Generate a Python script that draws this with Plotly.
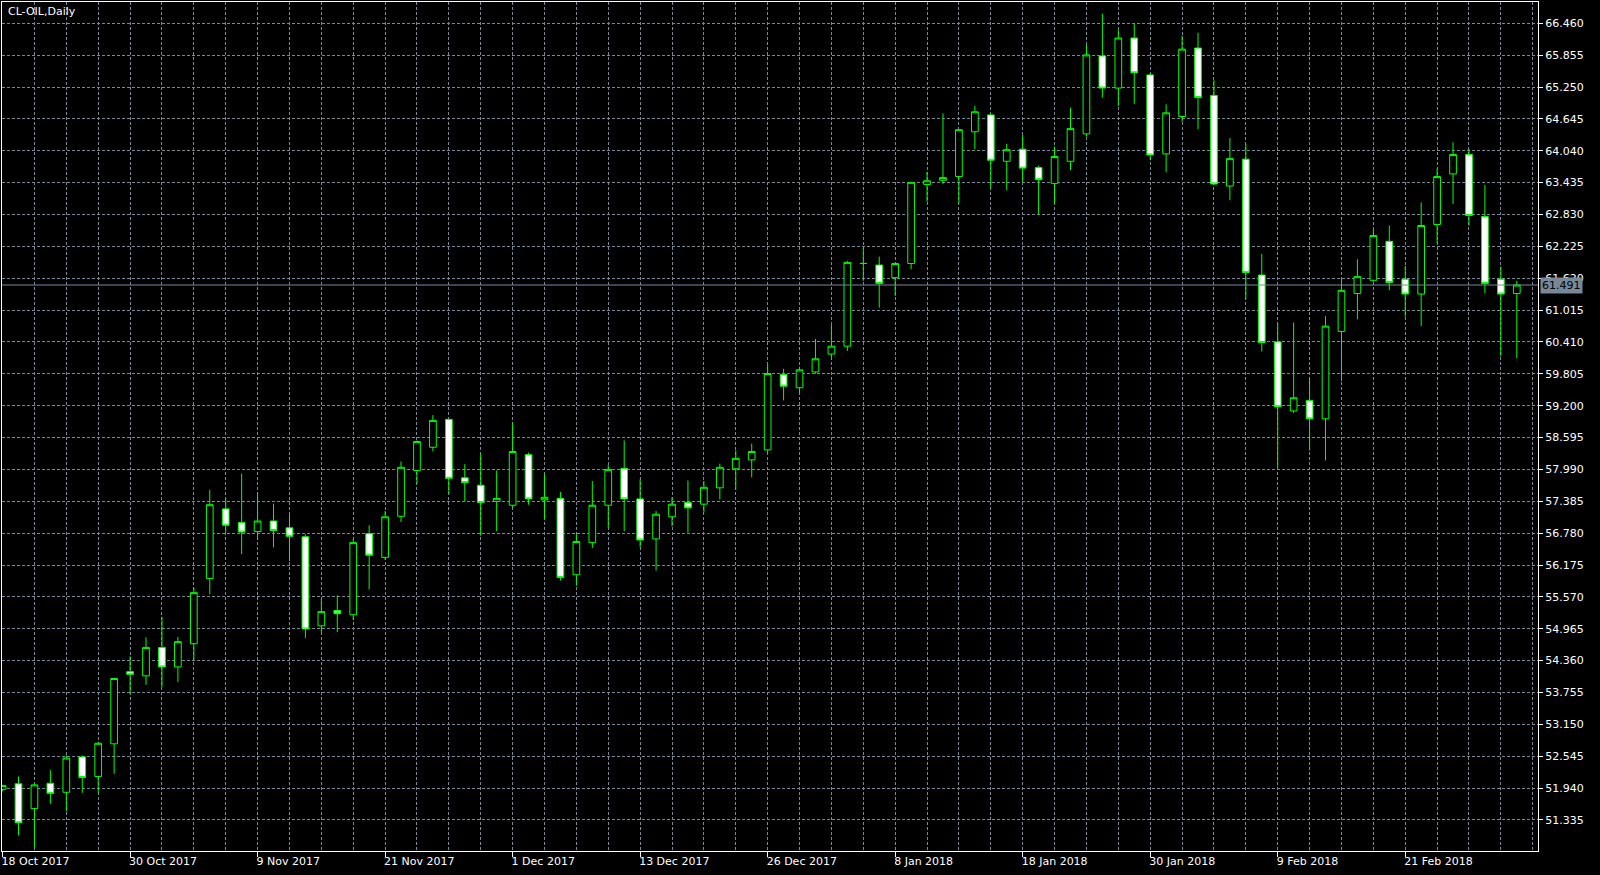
import plotly.graph_objects as go

# CL-OIL daily candles, 18 Oct 2017 - 2 Mar 2018
open_ = [51.915, 52.02, 51.55, 52.03, 51.86, 52.53, 52.16, 52.78, 54.15, 54.07,
         54.61, 54.24, 54.68, 55.92, 57.24, 56.98, 56.81, 57.01, 56.88, 56.71,
         55.02, 55.31, 55.23, 56.77, 56.32, 57.10, 57.97, 58.41, 58.94, 57.83,
         57.69, 57.38, 57.31, 58.27, 57.41, 57.44, 55.99, 56.60, 57.31, 58.01,
         57.43, 56.67, 57.09, 57.36, 57.33, 57.64, 58.00, 58.17, 58.36, 59.79,
         59.54, 59.84, 60.18, 60.33, 61.90, 61.87, 61.63, 61.90, 63.40, 63.48,
         63.55, 64.40, 64.72, 63.84, 64.07, 63.72, 63.42, 63.84, 64.36, 65.84,
         65.23, 66.18, 65.48, 63.98, 64.69, 65.99, 65.09, 63.37, 63.88, 61.68,
         60.41, 59.10, 59.30, 58.95, 60.61, 61.33, 61.58, 62.32, 61.60, 61.32,
         62.64, 63.60, 63.97, 62.79, 61.60, 61.33]
high = [52.00, 52.16, 52.02, 52.28, 52.56, 52.56, 52.81, 54.03, 54.44, 54.80,
        55.19, 54.81, 55.74, 57.60, 57.45, 57.91, 57.55, 57.34, 57.14, 56.76,
        55.54, 55.60, 56.66, 56.93, 57.20, 58.14, 58.54, 59.02, 58.95, 58.09,
        58.28, 57.97, 58.88, 58.31, 57.90, 57.56, 56.76, 57.77, 58.07, 58.54,
        57.80, 57.20, 57.46, 57.78, 57.77, 58.10, 58.35, 58.48, 59.99, 59.90,
        59.94, 60.47, 60.73, 61.95, 62.20, 62.03, 61.92, 63.45, 63.64, 64.75,
        64.45, 64.89, 64.74, 64.17, 64.34, 63.76, 64.12, 64.86, 66.05, 66.64,
        66.33, 66.45, 65.52, 64.92, 66.22, 66.28, 65.38, 64.28, 64.17, 62.08,
        60.76, 60.78, 59.73, 60.90, 61.61, 61.98, 62.55, 62.62, 61.85, 63.06,
        63.70, 64.20, 64.07, 63.39, 61.84, 61.57]
low = [51.88, 51.04, 50.82, 51.64, 51.50, 51.85, 51.85, 52.21, 53.73, 53.90,
       53.86, 53.95, 54.37, 55.62, 56.80, 56.38, 56.65, 56.51, 56.25, 54.79,
       54.89, 54.90, 55.13, 55.71, 56.27, 56.99, 57.72, 58.33, 57.52, 57.39,
       56.73, 56.82, 57.27, 57.32, 57.05, 55.88, 55.78, 56.50, 56.88, 56.82,
       56.51, 56.07, 56.91, 56.79, 57.17, 57.42, 57.60, 57.84, 58.31, 59.30,
       59.43, 59.81, 60.07, 60.24, 61.57, 61.06, 61.28, 61.79, 63.07, 63.41,
       63.04, 64.07, 63.32, 63.29, 63.44, 62.83, 63.04, 63.67, 64.31, 65.05,
       64.89, 64.93, 63.86, 63.63, 64.59, 64.45, 63.39, 63.10, 61.22, 60.23,
       58.03, 59.06, 58.35, 58.16, 59.67, 60.84, 61.55, 61.39, 60.89, 60.71,
       62.28, 63.03, 62.62, 61.33, 60.14, 60.10]
close = [51.99, 51.28, 52.00, 51.84, 52.51, 52.14, 52.79, 54.02, 54.10, 54.61,
         54.24, 54.72, 55.65, 57.32, 56.93, 56.80, 57.01, 56.83, 56.72, 54.96,
         55.29, 55.25, 56.60, 56.36, 57.09, 58.03, 58.52, 58.92, 57.82, 57.74,
         57.36, 57.44, 58.33, 57.43, 57.46, 55.94, 56.62, 57.31, 57.99, 57.43,
         56.65, 57.14, 57.33, 57.26, 57.65, 58.03, 58.20, 58.33, 59.81, 59.57,
         59.88, 60.09, 60.33, 61.92, 61.90, 61.52, 61.90, 63.44, 63.47, 63.53,
         64.44, 64.78, 63.86, 64.06, 63.71, 63.49, 63.93, 64.46, 65.86, 65.23,
         66.18, 65.52, 63.96, 64.76, 65.97, 65.05, 63.41, 63.89, 61.73, 60.40,
         59.18, 59.35, 58.95, 60.71, 61.39, 61.65, 62.43, 61.54, 61.32, 62.62,
         63.55, 63.97, 62.81, 61.52, 61.32, 61.491]

date_labels = ["18 Oct 2017", "30 Oct 2017", "9 Nov 2017", "21 Nov 2017",
               "1 Dec 2017", "13 Dec 2017", "26 Dec 2017", "8 Jan 2018",
               "18 Jan 2018", "30 Jan 2018", "9 Feb 2018", "21 Feb 2018"]
price_ticks = [66.460, 65.855, 65.250, 64.645, 64.040, 63.435, 62.830, 62.225,
               61.620, 61.015, 60.410, 59.805, 59.200, 58.595, 57.990, 57.385,
               56.780, 56.175, 55.570, 54.965, 54.360, 53.755, 53.150, 52.545,
               51.940, 51.335]
bid = 61.491

LIME = "#00FF00"
GRID = "#778899"
FONT = "DejaVu Sans"

bars = list(range(len(close)))
label_pos = bars[::8][:len(date_labels)]

fig = go.Figure()
fig.add_trace(go.Candlestick(
    x=bars, open=open_, high=high, low=low, close=close,
    increasing=dict(line=dict(color=LIME, width=1), fillcolor="#000000"),
    decreasing=dict(line=dict(color=LIME, width=1), fillcolor="#FFFFFF"),
    whiskerwidth=0,
    showlegend=False,
    hoverinfo="skip",
))

# bid line and its price tag on the axis
fig.add_hline(y=bid, line=dict(color=GRID, width=1))
fig.add_annotation(
    text=f"{bid:.3f}", xref="paper", yref="y", x=1, y=bid,
    xanchor="left", yanchor="middle", xshift=2, showarrow=False,
    bgcolor=GRID, borderpad=1,
    font=dict(family=FONT, size=11, color="#000000"),
)
fig.add_annotation(
    text="CL-OIL,Daily", xref="paper", yref="paper", x=0, y=1,
    xanchor="left", yanchor="top", xshift=4, yshift=-1, showarrow=False,
    font=dict(family=FONT, size=11, color="#FFFFFF"),
)

fig.update_layout(
    width=1600, height=875,
    margin=dict(l=2, r=62, t=2, b=24),
    paper_bgcolor="#000000",
    plot_bgcolor="#000000",
    font=dict(family=FONT, size=11, color="#FFFFFF"),
    boxgap=0.4,
    showlegend=False,
)

fig.update_xaxes(
    range=[-0.035, 96.33],
    rangeslider=dict(visible=False),
    tickmode="array", tickvals=label_pos, ticktext=date_labels,
    ticks="outside", ticklen=5, tickcolor="#FFFFFF",
    ticklabelposition="outside right", ticklabelshift=-2,
    showgrid=True, gridcolor=GRID, gridwidth=1, griddash="3px,2px",
    minor=dict(tickmode="linear", tick0=0, dtick=2, showgrid=True,
               gridcolor=GRID, gridwidth=1, griddash="3px,2px", ticks=""),
    showline=True, linecolor="#FFFFFF", linewidth=1, mirror=True,
    zeroline=False,
)

fig.update_yaxes(
    range=[50.745, 66.864],
    side="right",
    tickmode="array", tickvals=price_ticks,
    ticktext=[f"{v:.3f}" for v in price_ticks],
    ticks="outside", ticklen=4, tickcolor="#FFFFFF",
    showgrid=True, gridcolor=GRID, gridwidth=1, griddash="3px,2px",
    showline=True, linecolor="#FFFFFF", linewidth=1, mirror=True,
    zeroline=False,
)

fig.write_html(
    "out.html",
    config={"displayModeBar": False},
    post_script="document.body.style.margin='0';document.body.style.background='#000';",
)
